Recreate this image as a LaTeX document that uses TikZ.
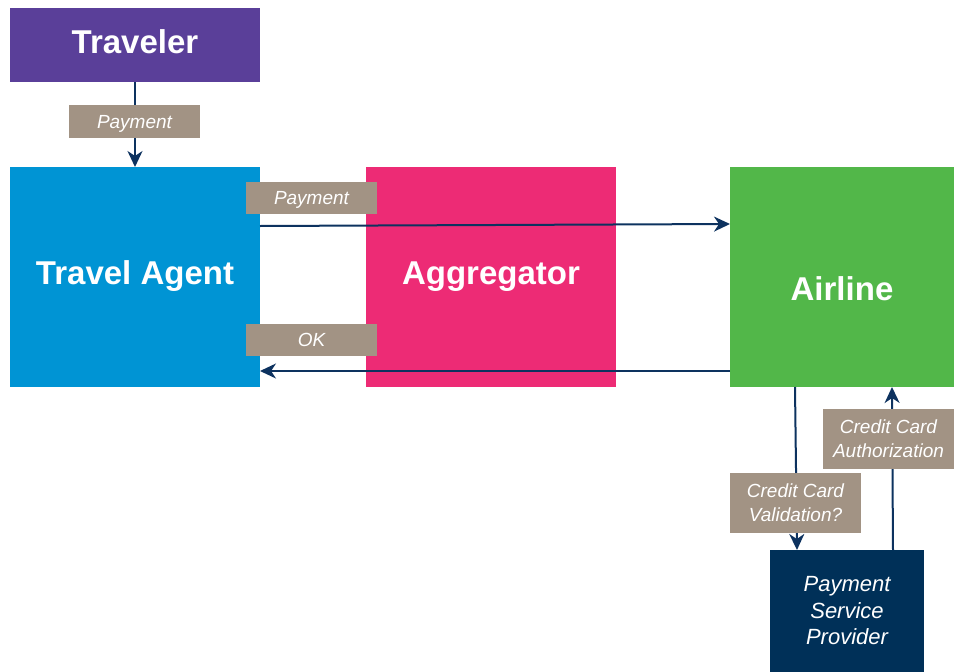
\documentclass[tikz,border=0pt]{standalone}
\usepackage{fontspec}
\setmainfont{Liberation Sans}
\usetikzlibrary{arrows.meta}

\definecolor{travelerpurple}{HTML}{5A3F99}
\definecolor{agentblue}{HTML}{0094D4}
\definecolor{aggpink}{HTML}{ED2B75}
\definecolor{airgreen}{HTML}{52B749}
\definecolor{pspnavy}{HTML}{003058}
\definecolor{tagtaupe}{HTML}{A29384}
\definecolor{flownavy}{HTML}{0D325F}

\tikzset{
  party/.style={rectangle, fill=#1, text=white, inner sep=0pt, outer sep=0pt,
    font=\bfseries\fontsize{33}{38}\selectfont, text height=23.6pt},
  flowtag/.style={rectangle, fill=tagtaupe, text=white, inner sep=0pt, outer sep=0pt,
    minimum width=131pt, align=center,
    font=\itshape\fontsize{19}{24}\selectfont},
  onetag/.style={flowtag, minimum height=32pt, text height=13.6pt, text depth=0pt},
  twotag/.style={flowtag, minimum height=60pt},
  flow/.style={draw=flownavy, line width=2pt,
    -{Stealth[length=16pt,width=15pt,inset=5pt]}},
}

\begin{document}
\begin{tikzpicture}[x=1pt,y=-1pt]
  \useasboundingbox (0,0) rectangle (954,672);

  % parties
  \node[party=travelerpurple, minimum width=250pt, minimum height=74pt, text depth=7pt]
    (traveler) at (135,45) {Traveler};
  \node[party=agentblue, minimum width=250pt, minimum height=220pt, text depth=9pt]
    (agent) at (135,277) {Travel Agent};
  \node[party=aggpink, minimum width=250pt, minimum height=220pt, text depth=8pt]
    (aggregator) at (491,277) {Aggregator};
  \node[party=airgreen, minimum width=224pt, minimum height=220pt, text height=47.6pt, text depth=0pt]
    (airline) at (842,277) {Airline};
  \node[rectangle, fill=pspnavy, text=white, inner sep=0pt, outer sep=0pt,
    minimum width=154pt, minimum height=122pt, align=center,
    font=\itshape\fontsize{22}{26.5}\selectfont]
    (psp) at (847,611) {Payment\\Service\\Provider};

  % message flows
  \draw[flow] (traveler) -- (agent);
  \draw[flow] ([yshift=-59pt]agent.north east) -- ([yshift=-57pt]airline.north west);
  \draw[flow] ([yshift=16pt]airline.south west) -- ([yshift=16pt]agent.south east);
  \draw[flow] ([xshift=65pt]airline.south west) -- ([xshift=27pt]psp.north west);
  \draw[flow] ([xshift=123pt]psp.north west) -- ([xshift=162pt]airline.south west);

  % flow labels
  \node[onetag, minimum height=33pt] (paytag1) at (134.5,121.5) {Payment};
  \node[onetag] (paytag2) at (311.5,198) {Payment};
  \node[onetag] (oktag) at (311.5,340) {OK};
  \node[twotag] (validtag) at (795.5,503) {Credit Card\\Validation?};
  \node[twotag] (authtag) at (888.5,439) {Credit Card\\Authorization};
\end{tikzpicture}
\end{document}
